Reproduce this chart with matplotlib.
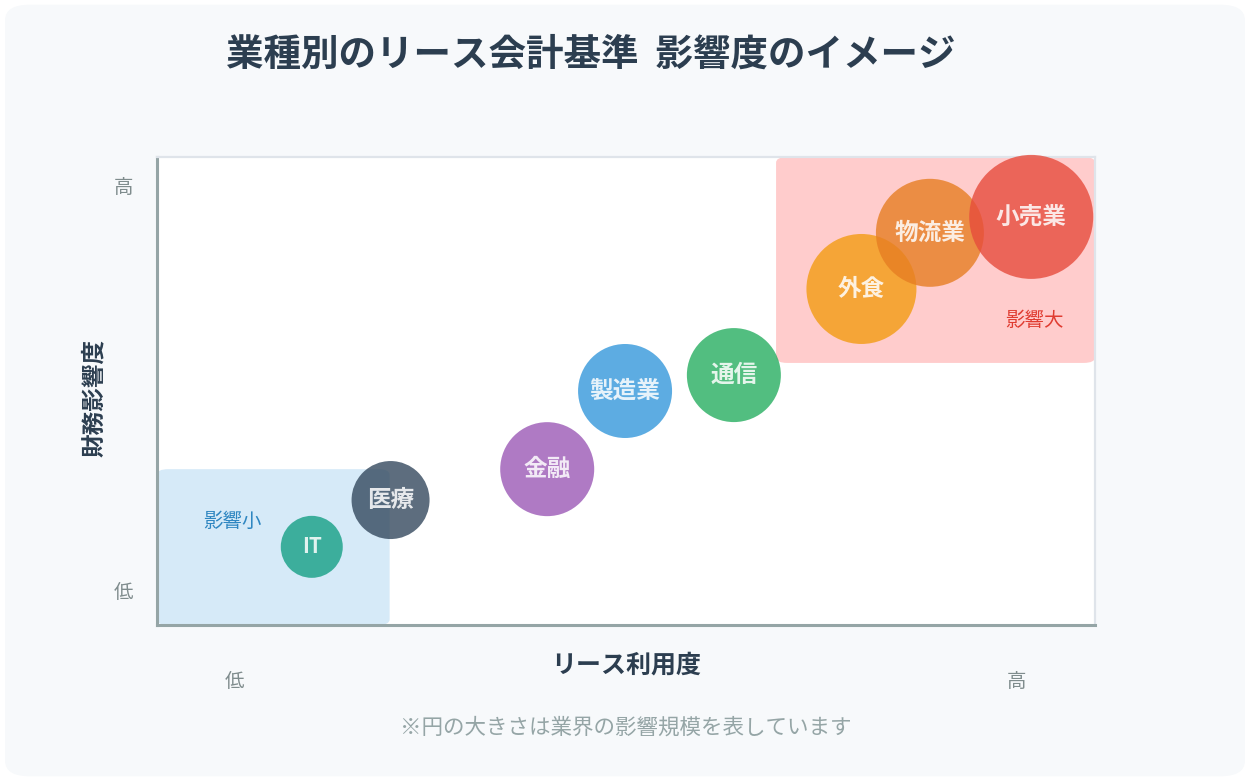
import numpy as np
import matplotlib
matplotlib.use("Agg")
import matplotlib.pyplot as plt
from matplotlib.patches import FancyBboxPatch

plt.rcParams['font.family'] = ['Noto Sans CJK JP', 'DejaVu Sans']

# industries, lease usage (x) vs financial impact (y), circle size = impact scale
industries = ['IT', '医療', '金融', '製造業', '通信', '外食', '物流業', '小売業']
lease_use = [16.5, 24.9, 41.6, 49.9, 61.5, 75.1, 82.4, 93.2]
fin_impact = [16.7, 26.7, 33.3, 50.0, 53.4, 71.8, 83.8, 87.2]
impact_scale = [62, 78, 94, 94, 94, 110, 108, 124]
colors = ['#16a085', '#34495e', '#9b59b6', '#3498db', '#27ae60',
          '#f39c12', '#e67e22', '#e74c3c']

tick_pos = [8.3, 91.6]
ytick_pos = [7.5, 94.0]
tick_labels = ['低', '高']

fig = plt.figure(figsize=(12.5, 7.81), dpi=100, facecolor='white')
# rounded card background
bg = FancyBboxPatch((0.004, 0.006), 0.992, 0.988,
                    boxstyle="round,pad=0,rounding_size=0.02",
                    transform=fig.transFigure, facecolor='#f7f9fb',
                    edgecolor='none', zorder=-5)
fig.patches.append(bg)

ax = fig.add_axes([157/1250, 1-625/781, 938/1250, 468/781])
ax.set_zorder(2)
ax.set_facecolor('white')
ax.set_xlim(0, 100)
ax.set_ylim(0, 100)

# zones
ax.add_patch(FancyBboxPatch((0, 0), 24.8, 33.3,
                            boxstyle="round,pad=0,rounding_size=1.2",
                            facecolor='#d6eaf8', edgecolor='none', zorder=1))
ax.add_patch(FancyBboxPatch((66.0, 56.0), 34.0, 44.0,
                            boxstyle="round,pad=0,rounding_size=1.2",
                            facecolor='#ffcccc', edgecolor='none', zorder=1))
ax.text(8.0, 22.2, '影響小', color='#2e86c1', fontsize=14,
        ha='center', va='center', zorder=2)
ax.text(93.5, 65.0, '影響大', color='#e03c31', fontsize=14,
        ha='center', va='center', zorder=2)

# bubbles
s = [(d * 0.72) ** 2 for d in impact_scale]
ax.scatter(lease_use, fin_impact, s=s, c=colors, alpha=0.8,
           edgecolors='none', zorder=3, clip_on=False)
for name, x, y in zip(industries, lease_use, fin_impact):
    fs = 15 if name == 'IT' else 17
    ax.text(x, y, name, color='white', fontsize=fs, fontweight='bold',
            ha='center', va='center', alpha=0.85, zorder=4)

ax.set_xticks(tick_pos)
ax.set_xticklabels(tick_labels)
ax.set_yticks(ytick_pos)
ax.set_yticklabels(tick_labels)
ax.tick_params(axis='both', length=0, labelsize=14, labelcolor='#7f8c8d')
ax.tick_params(axis='x', pad=33)
ax.tick_params(axis='y', pad=17)

ax.set_xlabel('リース利用度', fontsize=18, fontweight='bold', color='#2c3e50')
ax.xaxis.set_label_coords(0.5, -0.062)
ax.set_ylabel('財務影響度', fontsize=17, fontweight='bold', color='#2c3e50')
ax.yaxis.set_label_coords(-0.054, 0.485)

for side in ['left', 'bottom']:
    ax.spines[side].set_color('#95a5a6')
    ax.spines[side].set_linewidth(2.2)
for side in ['top', 'right']:
    ax.spines[side].set_color('#dfe4ea')
    ax.spines[side].set_linewidth(1.6)

fig.text(226/1250, 1-54/781, '業種別のリース会計基準  影響度のイメージ',
         fontsize=27, fontweight='bold', color='#2c3e50',
         ha='left', va='center')
fig.text(626/1250, 1-728/781, '※円の大きさは業界の影響規模を表しています',
         fontsize=15.5, color='#95a5a6', ha='center', va='center')

plt.savefig('out.png', dpi=100, facecolor=fig.get_facecolor())
